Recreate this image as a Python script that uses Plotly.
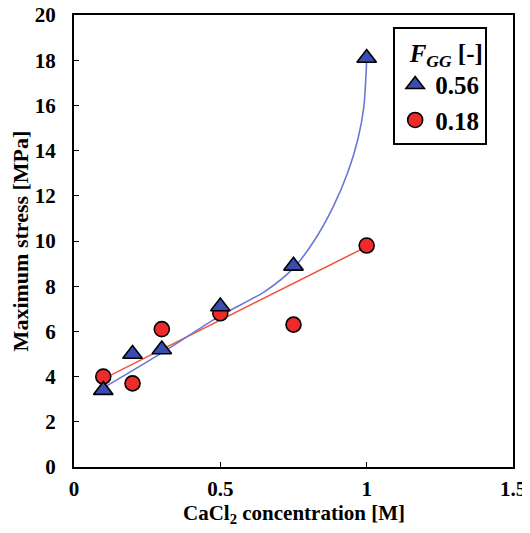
import plotly.graph_objects as go

# Data
conc = [0.1, 0.2, 0.3, 0.5, 0.75, 1.0]
stress_056 = [3.4, 5.0, 5.2, 7.1, 8.9, 18.1]
stress_018 = [4.0, 3.7, 6.1, 6.8, 6.3, 9.8]

# trend lines as drawn in the reference
fit_018_x = [0.1, 1.0]
fit_018_y = [3.9, 9.75]
fit_056_x = [0.1, 0.3, 0.5, 0.65, 0.75, 0.82, 0.885, 0.936, 0.97, 0.99, 1.0]
fit_056_y = [3.5, 5.05, 6.7, 7.75, 8.8, 10.0, 11.5, 13.05, 14.5, 15.9, 18.0]

x_ticks = [0, 0.5, 1, 1.5]
x_tick_text = ["0", "0.5", "1", "1.5"]
y_ticks = list(range(0, 21, 2))

FONT = "Liberation Serif"
BLUE = "#3a4cb0"
RED = "#ee2b2b"
BLUE_LINE = "#6b78d4"
RED_LINE = "#f2583e"

fig = go.Figure()
fig.add_trace(go.Scatter(x=fit_018_x, y=fit_018_y, mode="lines",
                         line=dict(color=RED_LINE, width=1.6), showlegend=False,
                         hoverinfo="skip"))
fig.add_trace(go.Scatter(x=fit_056_x, y=fit_056_y, mode="lines",
                         line=dict(color=BLUE_LINE, width=1.6, shape="spline", smoothing=0.8),
                         showlegend=False, hoverinfo="skip"))
fig.add_trace(go.Scatter(x=conc, y=stress_018, mode="markers", name="<b>0.18</b>",
                         marker=dict(symbol="circle", size=15, color=RED,
                                     line=dict(color="black", width=1.6)),
                         legendrank=2))
fig.add_trace(go.Scatter(x=conc, y=stress_056, mode="markers", name="<b>0.56</b>",
                         marker=dict(symbol="triangle-up", size=17, color=BLUE,
                                     line=dict(color="black", width=1.6)),
                         legendrank=1))

fig.update_layout(
    width=522, height=525,
    margin=dict(l=66, r=17, t=7, b=66, autoexpand=False),
    paper_bgcolor="white", plot_bgcolor="white",
    font=dict(family=FONT, color="black"),
    showlegend=True,
    legend=dict(
        title=dict(text="<b>&nbsp;&nbsp;<i>F</i><sub><i>GG</i></sub> [-]</b>",
                   font=dict(family=FONT, size=25, color="black")),
        font=dict(family=FONT, size=25, color="black"),
        x=0.727, y=0.973, xanchor="left", yanchor="top",
        bgcolor="white", bordercolor="black", borderwidth=2,
        itemsizing="trace", traceorder="normal", itemwidth=30,
        tracegroupgap=0,
    ),
    xaxis=dict(
        range=[0, 1.5], tickvals=x_ticks, ticktext=["<b>%s</b>" % t for t in x_tick_text],
        ticks="inside", ticklen=5, tickwidth=1, tickcolor="black",
        showline=True, linecolor="black", linewidth=2, mirror=True,
        showgrid=False, zeroline=False, automargin=False,
        tickfont=dict(family=FONT, size=21, color="black"),
        ticklabelstandoff=2, ticklabeloverflow="allow",
    ),
    yaxis=dict(
        range=[0, 20], tickvals=y_ticks, ticktext=["<b>%d</b>" % v for v in y_ticks],
        ticks="inside", ticklen=5, tickwidth=1, tickcolor="black",
        showline=True, linecolor="black", linewidth=2, mirror=True,
        showgrid=False, zeroline=False, automargin=False,
        tickfont=dict(family=FONT, size=21, color="black"),
        ticklabelstandoff=12, ticklabeloverflow="allow",
        title=dict(text="<b>Maximum stress [MPa]</b>",
                   font=dict(family=FONT, size=22, color="black"), standoff=0),
    ),
    annotations=[dict(
        text="<b>CaCl<sub>2</sub> concentration [M]</b>",
        xref="paper", yref="paper", x=0.5, y=0, xanchor="center", yanchor="middle",
        yshift=-47, showarrow=False,
        font=dict(family=FONT, size=21, color="black"),
    )],
)

fig.write_html("out.html")
